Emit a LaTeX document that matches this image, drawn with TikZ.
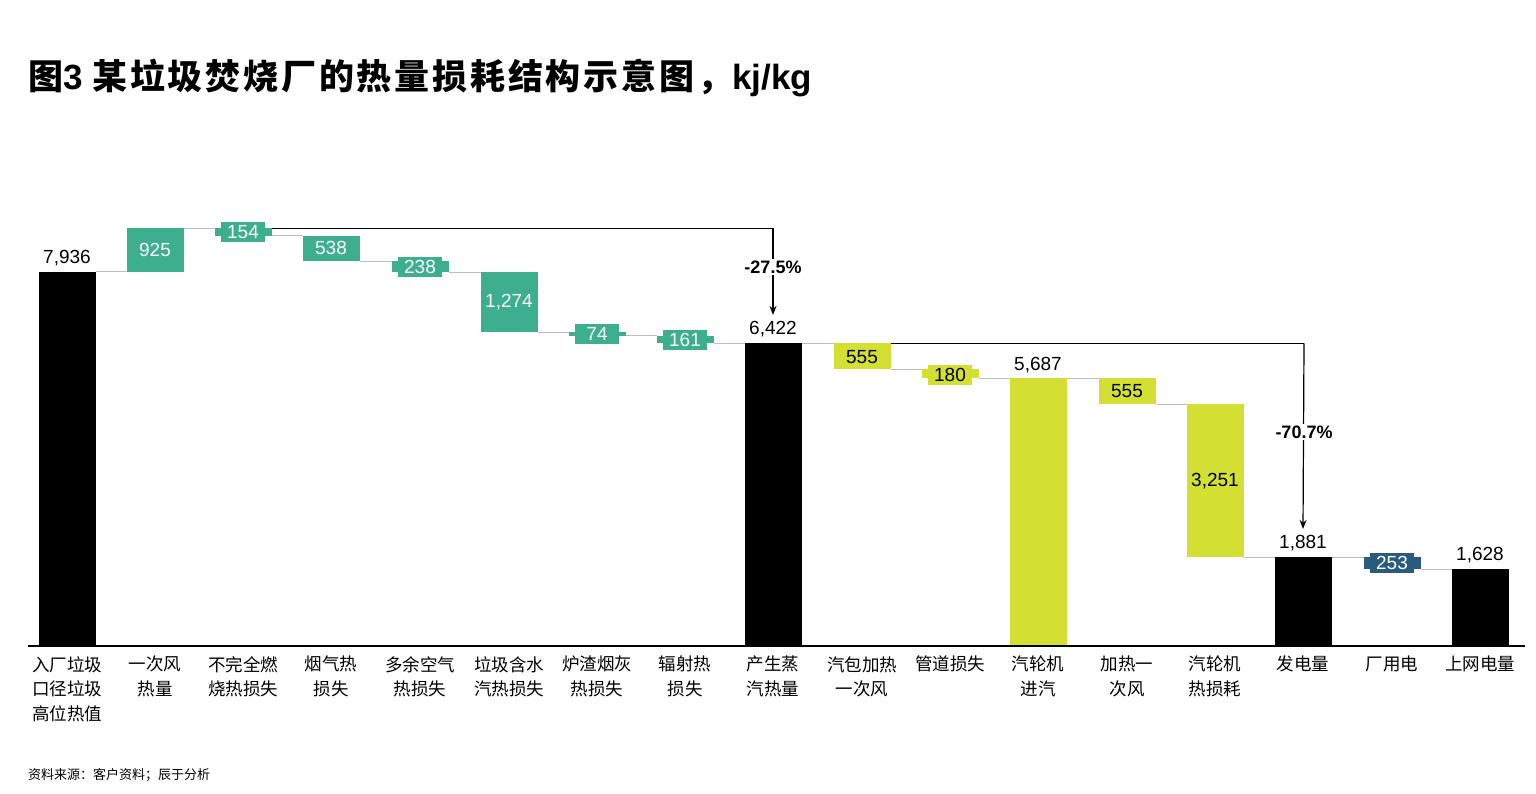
\documentclass[tikz,border=0pt]{standalone}
\usepackage{fontspec}
\setmainfont{Liberation Sans}
\newfontfamily\cjk{Noto Sans CJK SC}
\usetikzlibrary{arrows.meta}
\definecolor{wgreen}{HTML}{3DAE8E}
\definecolor{wyellow}{HTML}{D4DF33}
\definecolor{wblue}{HTML}{2A5B7C}
\tikzset{
  conn/.style={draw=black!25,line width=0.9pt},
  valin/.style={font=\fontsize{19}{19}\selectfont,inner sep=1pt},
  valbox/.style={font=\fontsize{19}{19}\selectfont,inner sep=0pt,minimum width=44pt,minimum height=20pt},
  valtop/.style={font=\fontsize{19}{19}\selectfont,anchor=south,inner sep=6pt},
  cat/.style={font=\cjk\fontsize{17.5}{24.5}\selectfont,anchor=north,align=center,inner sep=0pt},
  brk/.style={line width=1.2pt},
  pct/.style={font=\bfseries\fontsize{18}{18}\selectfont}
}
\newcommand\wfbar[4]{\pgfmathsetmacro\ya{646-0.04713*#2}\pgfmathsetmacro\yb{646-0.04713*#3}\fill[#4] (#1-28.5,\ya) rectangle (#1+28.5,\yb);}
\newcommand\wconn[3]{\pgfmathsetmacro\ya{646-0.04713*#3}\draw[conn] (#1+28.5,\ya) -- (#2-28.5,\ya);}
\begin{document}
\begin{tikzpicture}[x=1pt,y=-1pt]
\useasboundingbox (0,0) rectangle (1536,793);
\fill[white] (0,0) rectangle (1536,793);
\node[anchor=west,font=\bfseries\fontsize{35}{35}\selectfont,inner sep=0pt] (title) at (28,78) {{\cjk 图}3 {\cjk\addfontfeature{LetterSpace=8} 某垃圾焚烧厂的热量损耗结构示意图，}kj/kg};
% bars
\wfbar{67}{0}{7936}{black}
\wfbar{155}{7936}{8861}{wgreen}
\wfbar{243}{8861}{8707}{wgreen}
\wfbar{331}{8707}{8169}{wgreen}
\wfbar{420}{8169}{7931}{wgreen}
\wfbar{509}{7931}{6657}{wgreen}
\wfbar{597}{6657}{6583}{wgreen}
\wfbar{685}{6583}{6422}{wgreen}
\wfbar{773}{0}{6422}{black}
\wfbar{862}{6422}{5867}{wyellow}
\wfbar{950}{5867}{5687}{wyellow}
\wfbar{1038}{0}{5687}{wyellow}
\wfbar{1127}{5687}{5132}{wyellow}
\wfbar{1215}{5132}{1881}{wyellow}
\wfbar{1303}{0}{1881}{black}
\wfbar{1392}{1881}{1628}{wblue}
\wfbar{1480}{0}{1628}{black}
% connectors
\wconn{67}{155}{7936}\wconn{155}{243}{8861}\wconn{243}{331}{8707}\wconn{331}{420}{8169}
\wconn{420}{509}{7931}\wconn{509}{597}{6657}\wconn{597}{685}{6583}\wconn{685}{773}{6422}
\wconn{773}{862}{6422}\wconn{862}{950}{5867}\wconn{950}{1038}{5687}\wconn{1038}{1127}{5687}
\wconn{1127}{1215}{5132}\wconn{1215}{1303}{1881}\wconn{1303}{1392}{1881}\wconn{1392}{1480}{1628}
% axis
\draw[line width=1.2pt] (28,646) -- (1525,646);
% value labels
\node[valtop] (v0) at (67,272) {7,936};
\node[valin,text=white] (v1) at (155,250) {925};
\node[valbox,fill=wgreen,text=white] (v2) at (243,232) {154};
\node[valin,text=white] (v3) at (331,248) {538};
\node[valbox,fill=wgreen,text=white] (v4) at (420,266.5) {238};
\node[valin,text=white] (v5) at (509,302) {1,274};
\node[valbox,fill=wgreen,text=white] (v6) at (597,334) {74};
\node[valbox,fill=wgreen,text=white] (v7) at (685,339.5) {161};
\node[valtop] (v8) at (773,343) {6,422};
\node[valin] (v9) at (862,357) {555};
\node[valbox,fill=wyellow] (v10) at (950,375) {180};
\node[valtop] (v11) at (1038,379) {5,687};
\node[valin] (v12) at (1127,391) {555};
\node[valin] (v13) at (1215,481) {3,251};
\node[valtop] (v14) at (1303,557) {1,881};
\node[valbox,fill=wblue,text=white] (v15) at (1392,563) {253};
\node[valtop] (v16) at (1480,569) {1,628};
% brackets
\coordinate (b1s) at (271.5,228.4);
\coordinate (b1c) at (773,228.4);
\draw[brk] (b1s) -- (b1c);
\draw[brk,-{Stealth[length=9pt,width=7pt]}] (b1c) -- (v8.north);
\node[pct,fill=white,inner sep=2pt] (p1) at (773,267) {-27.5\%};
\coordinate (b2s) at (890.5,343.3);
\coordinate (b2c) at (1304,343.3);
\draw[brk] (b2s) -- (b2c);
\draw[brk,-{Stealth[length=9pt,width=7pt]}] (b2c) -- (v14.north);
\node[pct,fill=white,inner sep=2pt] (p2) at (1304,432) {-70.7\%};
% categories
\node[cat] (c0) at (67,656) {入厂垃圾\\口径垃圾\\高位热值};
\node[cat] (c1) at (155,656) {一次风\\热量};
\node[cat] (c2) at (243,656) {不完全燃\\烧热损失};
\node[cat] (c3) at (331,656) {烟气热\\损失};
\node[cat] (c4) at (420,656) {多余空气\\热损失};
\node[cat] (c5) at (509,656) {垃圾含水\\汽热损失};
\node[cat] (c6) at (597,656) {炉渣烟灰\\热损失};
\node[cat] (c7) at (685,656) {辐射热\\损失};
\node[cat] (c8) at (773,656) {产生蒸\\汽热量};
\node[cat] (c9) at (862,656) {汽包加热\\一次风};
\node[cat] (c10) at (950,656) {管道损失};
\node[cat] (c11) at (1038,656) {汽轮机\\进汽};
\node[cat] (c12) at (1127,656) {加热一\\次风};
\node[cat] (c13) at (1215,656) {汽轮机\\热损耗};
\node[cat] (c14) at (1303,656) {发电量};
\node[cat] (c15) at (1392,656) {厂用电};
\node[cat] (c16) at (1480,656) {上网电量};
\node[anchor=west,font=\cjk\fontsize{13}{13}\selectfont,inner sep=0pt] (src) at (28,775) {资料来源：客户资料；辰于分析};
\end{tikzpicture}
\end{document}
